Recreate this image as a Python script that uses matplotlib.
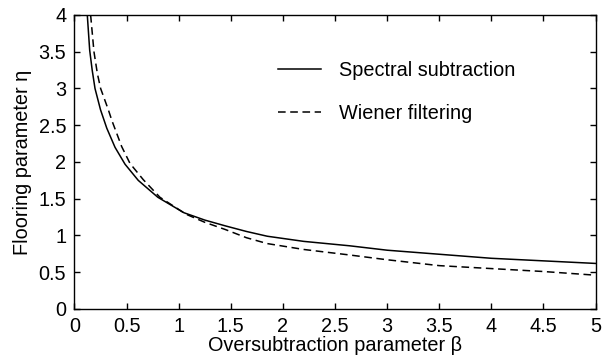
import matplotlib
matplotlib.use("Agg")
import matplotlib.pyplot as plt

plt.rcParams['font.family'] = ['Liberation Sans', 'DejaVu Sans']

# Spectral subtraction curve
beta_ss = [0.123, 0.146, 0.17, 0.197, 0.25, 0.31, 0.389, 0.485, 0.612, 0.80,
           1.05, 1.25, 1.45, 1.65, 1.85, 2.2, 2.64, 3.0, 3.5, 4.0, 4.5, 5.0]
eta_ss = [4.0, 3.52, 3.25, 3.0, 2.71, 2.46, 2.2, 1.97, 1.75, 1.52,
          1.31, 1.21, 1.13, 1.055, 0.99, 0.92, 0.86, 0.80, 0.745, 0.69, 0.655, 0.62]

# Wiener filtering curve
beta_wf = [0.155, 0.187, 0.22, 0.251, 0.325, 0.36, 0.453, 0.533, 0.66, 0.82,
           1.07, 1.25, 1.45, 1.65, 1.85, 2.2, 2.64, 3.0, 3.5, 4.0, 4.5, 5.0]
eta_wf = [4.0, 3.5, 3.2, 3.0, 2.71, 2.56, 2.21, 1.98, 1.76, 1.52,
          1.29, 1.18, 1.08, 0.97, 0.89, 0.81, 0.735, 0.67, 0.59, 0.55, 0.51, 0.46]

labels = ["Spectral subtraction", "Wiener filtering"]
xticks = [0, 0.5, 1, 1.5, 2, 2.5, 3, 3.5, 4, 4.5, 5]
xticklabels = ["0", "0.5", "1", "1.5", "2", "2.5", "3", "3.5", "4", "4.5", "5"]
yticks = [0, 0.5, 1, 1.5, 2, 2.5, 3, 3.5, 4]
yticklabels = ["0", "0.5", "1", "1.5", "2", "2.5", "3", "3.5", "4"]

fig = plt.figure(figsize=(6.15, 3.64), dpi=100)
ax = fig.add_axes([0.1211, 0.1511, 0.8472, 0.8077])

ax.plot(beta_ss, eta_ss, color="black", lw=1.1, label=labels[0])
ax.plot(beta_wf, eta_wf, color="black", lw=1.1, dashes=(5, 3), label=labels[1])

ax.set_xlim(0, 5)
ax.set_ylim(0, 4)
ax.set_xticks(xticks)
ax.set_xticklabels(xticklabels)
ax.set_yticks(yticks)
ax.set_yticklabels(yticklabels)
ax.tick_params(direction="in", top=True, right=True, length=4, width=1,
               labelsize=14.3, pad=6)
for s in ax.spines.values():
    s.set_linewidth(1.0)

ax.set_xlabel("Oversubtraction parameter β", fontsize=14.3, labelpad=0)
ax.set_ylabel("Flooring parameter η", fontsize=14.3, labelpad=5)

ax.legend(loc="upper left", bbox_to_anchor=(0.39, 0.843), frameon=False,
          fontsize=14.3, handlelength=2.2, handletextpad=0.9, labelspacing=1.2,
          borderpad=0, borderaxespad=0)

fig.savefig("out.png", dpi=100)
